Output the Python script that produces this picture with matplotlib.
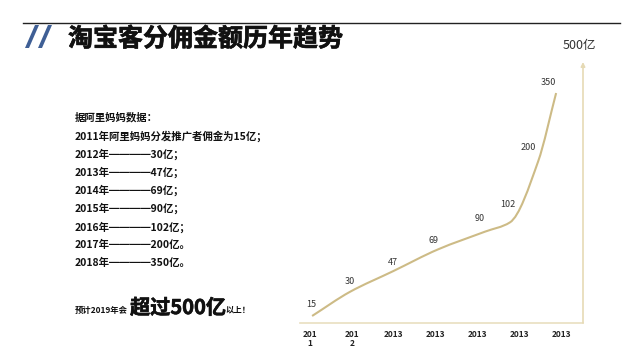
import numpy as np
import matplotlib
matplotlib.use("Agg")
import matplotlib.pyplot as plt
import matplotlib.patheffects as pe
from matplotlib.path import Path
from matplotlib.patches import PathPatch, Polygon
from matplotlib.lines import Line2D

plt.rcParams['font.family'] = ['Noto Sans CJK SC', 'DejaVu Sans']

# ======================
# DATA
# ======================
title = "淘宝客分佣金额历年趋势"
values = [15, 30, 47, 69, 90, 102, 200, 350]          # 亿
x_pos = [0.05, 0.95, 1.98, 3.05, 4.17, 4.76, 5.43, 5.86]  # place on the time axis
tick_labels = ["201\n1", "201\n2", "2013", "2013", "2013", "2013", "2013"]
notes = [
    "据阿里妈妈数据：",
    "2011年阿里妈妈分发推广者佣金为15亿；",
    "2012年━━━━30亿；",
    "2013年━━━━47亿；",
    "2014年━━━━69亿；",
    "2015年━━━━90亿；",
    "2016年━━━━102亿；",
    "2017年━━━━200亿。",
    "2018年━━━━350亿。",
]
forecast = ["预计2019年会", "超过500亿", "以上！"]
top_label = "500亿"

# label offsets in pixels (dx, dy)
label_offsets = [(-1, 11), (0, 10), (0, 9), (-5, 9), (-5, 13), (-2, 18), (-10, 14), (-8, 11)]

W, H = 642, 355
fig = plt.figure(figsize=(W / 100, H / 100), dpi=100)

def fx(x):
    return x / W

def fy(y):
    return 1 - y / H

heavy = [pe.withStroke(linewidth=0.45, foreground="#111111")]

# ======================
# HEADER
# ======================
fig.add_artist(Line2D([fx(23), fx(620)], [fy(23), fy(23)], color="#222222", lw=1))
blue = "#3f5f95"
for dx in (0, 13):
    pts = [(25 + dx, 48), (29 + dx, 48), (39 + dx, 25), (35 + dx, 25)]
    fig.add_artist(Polygon([(fx(a), fy(b)) for a, b in pts], closed=True,
                           facecolor=blue, edgecolor="none", transform=fig.transFigure))
fig.text(fx(68), fy(39), title, fontsize=18, fontweight="bold", color="#111111",
         va="center", ha="left", path_effects=heavy)

# ======================
# LEFT TEXT
# ======================
note_y = [117, 136, 154, 172, 190, 208, 227, 245, 263]
for s, y in zip(notes, note_y):
    fig.text(fx(75), fy(y), s, fontsize=7.5, fontweight="bold", color="#111111",
             va="center", ha="left")

fig.text(fx(75), fy(313), forecast[0], fontsize=6, fontweight="bold", color="#111111",
         va="baseline", ha="left")
fig.text(fx(130), fy(314), forecast[1], fontsize=14.5, fontweight="bold", color="#111111",
         va="baseline", ha="left", path_effects=heavy)
fig.text(fx(225), fy(313), forecast[2], fontsize=6, fontweight="bold", color="#111111",
         va="baseline", ha="left")

# ======================
# CHART
# ======================
ax = fig.add_axes([fx(300), fy(323), fx(583) - fx(300), fy(62) - fy(323)])
ax.set_yscale("function", functions=(lambda v: np.sqrt(np.clip(v, 0, None)), np.square))
ax.set_xlim(-0.238, 6.5)
ax.set_ylim(11.6, 431.5)
ax.patch.set_alpha(0)

for s in ("top", "right", "left"):
    ax.spines[s].set_visible(False)
ax.spines["bottom"].set_color("#e9dfc0")
ax.spines["bottom"].set_linewidth(1.2)
ax.set_yticks([])
ax.set_xticks(range(len(tick_labels)))
ax.set_xticklabels(tick_labels, fontsize=6, fontweight="bold", color="#222222",
                   linespacing=1.0, va="top")
ax.tick_params(axis="x", length=0, pad=5)

# smooth curve: monotone cubic in (x, sqrt(v)) space, drawn as bezier path
xs = np.array(x_pos)
ts = np.sqrt(np.array(values, dtype=float))
h = np.diff(xs)
d = np.diff(ts) / h
m = np.zeros_like(ts)
m[0], m[-1] = d[0], d[-1]
for k in range(1, len(ts) - 1):
    if d[k - 1] * d[k] <= 0:
        m[k] = 0
    else:
        w1 = 2 * h[k] + h[k - 1]
        w2 = h[k] + 2 * h[k - 1]
        m[k] = (w1 + w2) / (w1 / d[k - 1] + w2 / d[k])
verts = [(xs[0], ts[0])]
codes = [Path.MOVETO]
for i in range(len(h)):
    verts += [(xs[i] + h[i] / 3, ts[i] + m[i] * h[i] / 3),
              (xs[i + 1] - h[i] / 3, ts[i + 1] - m[i + 1] * h[i] / 3),
              (xs[i + 1], ts[i + 1])]
    codes += [Path.CURVE4] * 3
verts = np.array(verts)
verts[:, 1] = verts[:, 1] ** 2
ax.add_patch(PathPatch(Path(verts, codes), fill=False, edgecolor="#cdbb86",
                       lw=1.5, transform=ax.transData, clip_on=False))

for xv, v, (ox, oy) in zip(x_pos, values, label_offsets):
    ax.annotate(str(v), (xv, v), xytext=(ox, oy), textcoords="offset pixels",
                fontsize=6.5, color="#333333", ha="center", va="center")

# y arrow
ax.annotate("", xy=(1.0, 1.0), xytext=(1.0, 0.0), xycoords="axes fraction",
            arrowprops=dict(arrowstyle="-|>", color="#e6dab5", lw=1.2,
                            mutation_scale=6, shrinkA=0, shrinkB=0))
fig.text(fx(579), fy(45), top_label, fontsize=9, color="#333333", ha="center", va="center")

fig.savefig("out.png", dpi=100)
